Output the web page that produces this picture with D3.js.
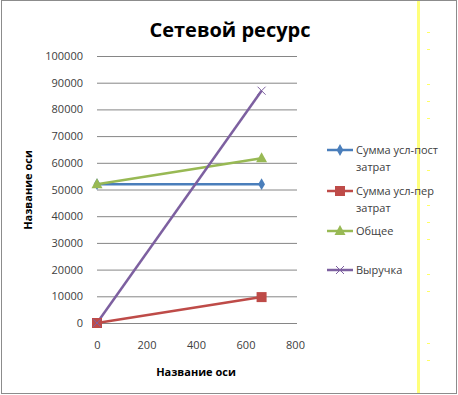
<!DOCTYPE html>
<head>
  <meta charset="utf-8">
  <script src="https://d3js.org/d3.v7.min.js"></script>
  <style>
    body { margin:0; background:#fff; }
    svg { display:block; }
    text { font-family: "Open Sans", "DejaVu Sans", sans-serif; }
  </style>
</head>
<body>
  <svg width="458" height="395"></svg>
  <script>
    // data
    var xValues = [0, 665];
    var seriesNames = ['Сумма усл-пост затрат', 'Сумма усл-пер затрат', 'Общее', 'Выручка'];
    var postCosts = [52000, 52000];
    var perCosts = [0, 9700];
    var total = [52000, 61700];
    var revenue = [0, 87000];
    var yTicks = [0, 10000, 20000, 30000, 40000, 50000, 60000, 70000, 80000, 90000, 100000];
    var xTicks = [0, 200, 400, 600, 800];

    var svg = d3.select('svg');
    var margin = {top: 56, left: 97, right: 161, bottom: 72};
    var width = 458, height = 395;

    var x = d3.scaleLinear().domain([0, 800]).range([margin.left, 295]);
    var y = d3.scaleLinear().domain([0, 100000]).range([323, margin.top]);

    // outer frame
    svg.append('rect')
      .attr('x', 1.5).attr('y', 0.5)
      .attr('width', 455).attr('height', 393)
      .attr('fill', 'none').attr('stroke', '#8c8c8c');

    // yellow stripe on the right (part of the original page)
    svg.append('rect')
      .attr('x', 417).attr('y', 1).attr('width', 3).attr('height', 392)
      .attr('fill', '#ffff7a');
    var dashY = [32, 49, 84, 101, 118, 170, 205, 222, 239, 274, 291, 343, 360];
    svg.selectAll('.dash').data(dashY).enter().append('rect')
      .attr('class', 'dash')
      .attr('x', 427).attr('y', d => d).attr('width', 3).attr('height', 1)
      .attr('fill', '#ffff66');

    // title
    svg.append('text')
      .attr('x', 230).attr('y', 37)
      .attr('text-anchor', 'middle')
      .attr('font-size', 20).attr('font-weight', 'bold')
      .text('Сетевой ресурс');

    // gridlines + y labels
    var yAxis = d3.axisLeft(y).tickValues(yTicks).tickSize(-200).tickPadding(14)
      .tickFormat(d3.format('d'));
    var gy = svg.append('g').attr('transform', 'translate(' + [margin.left, 0] + ')').call(yAxis);
    gy.select('.domain').remove();
    gy.selectAll('line').attr('stroke', '#868686');
    gy.selectAll('text').attr('font-size', 11).attr('fill', '#404040')
      .attr('font-family', '"Liberation Sans", sans-serif');

    var xAxis = d3.axisBottom(x).tickValues(xTicks).tickSize(0).tickPadding(18);
    var gx = svg.append('g').attr('transform', 'translate(' + [0, 323] + ')').call(xAxis);
    gx.select('.domain').remove();
    gx.selectAll('text').attr('font-size', 11).attr('fill', '#404040')
      .attr('font-family', '"Liberation Sans", sans-serif');

    // axis titles
    svg.append('text')
      .attr('x', 196).attr('y', 376)
      .attr('text-anchor', 'middle').attr('font-size', 11).attr('font-weight', 'bold')
      .text('Название оси');
    svg.append('text')
      .attr('transform', 'translate(32,190) rotate(-90)')
      .attr('text-anchor', 'middle').attr('font-size', 11).attr('font-weight', 'bold')
      .text('Название оси');

    var colors = ['#4a7ebb', '#be4b48', '#98b954', '#7d60a0'];
    var series = [postCosts, perCosts, total, revenue];
    var line = d3.line().x((d, i) => x(xValues[i])).y(d => y(d));

    series.forEach(function(s, k) {
      svg.append('path').datum(s)
        .attr('d', line)
        .attr('fill', 'none')
        .attr('stroke', colors[k])
        .attr('stroke-width', 2.5);
    });

    function marker(g, k, cx, cy) {
      var c = colors[k];
      if (k === 0) {
        g.append('path').attr('d', d3.symbol(d3.symbolDiamond, 40)())
          .attr('transform', 'translate(' + cx + ',' + cy + ')').attr('fill', c);
      } else if (k === 1) {
        g.append('rect').attr('x', cx - 5).attr('y', cy - 5).attr('width', 10).attr('height', 10).attr('fill', c);
      } else if (k === 2) {
        g.append('path').attr('d', 'M' + (cx - 5.5) + ',' + (cy + 4) + 'L' + cx + ',' + (cy - 6) + 'L' + (cx + 5.5) + ',' + (cy + 4) + 'Z')
          .attr('fill', c);
      } else {
        g.append('path').attr('d', 'M' + (cx - 4) + ',' + (cy - 4) + 'L' + (cx + 4) + ',' + (cy + 4) + 'M' + (cx - 4) + ',' + (cy + 4) + 'L' + (cx + 4) + ',' + (cy - 4))
          .attr('stroke', c).attr('stroke-width', 1).attr('fill', 'none');
      }
    }

    var mg = svg.append('g');
    series.forEach(function(s, k) {
      s.forEach(function(v, i) { marker(mg, k, x(xValues[i]), y(v)); });
    });

    // legend
    var legendY = [150, 191, 231, 270];
    var lg = svg.append('g');
    seriesNames.forEach(function(name, k) {
      var ly = legendY[k];
      lg.append('line').attr('x1', 327).attr('x2', 353).attr('y1', ly).attr('y2', ly)
        .attr('stroke', colors[k]).attr('stroke-width', 2.5);
      marker(lg, k, 340, ly);
      var words = name.split(' ');
      var lines = words.length > 2 ? [words.slice(0, 2).join(' '), words.slice(2).join(' ')] : [name];
      lines.forEach(function(t, j) {
        lg.append('text').attr('x', 356).attr('y', ly + 4 + j * 17)
          .attr('font-size', 11).attr('fill', '#404040')
          .attr('font-family', '"Liberation Sans", sans-serif')
          .text(t);
      });
    });
  </script>
</body>
